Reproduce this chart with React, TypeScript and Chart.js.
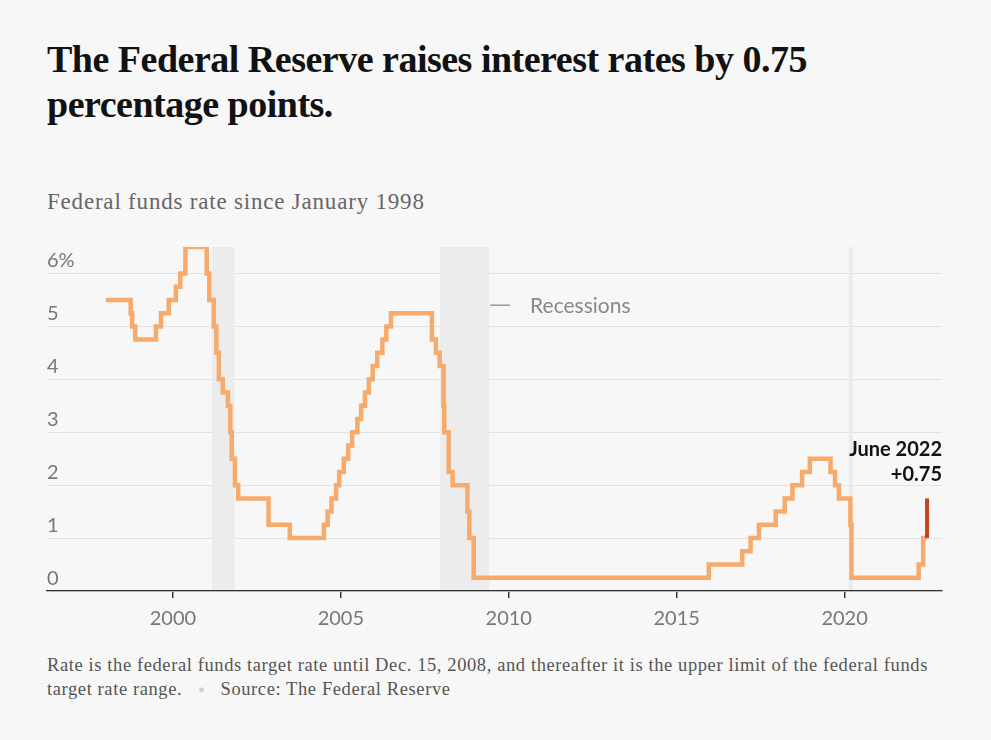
import React, { useEffect, useRef } from "react";
import { Chart, registerables } from "chart.js";

Chart.register(...registerables);

// Federal funds target rate (upper limit after Dec. 2008): date of change, new rate
const changeDates = [
  "1998-01-01", "1998-09-29", "1998-10-15", "1998-11-17", "1999-06-30", "1999-08-24",
  "1999-11-16", "2000-02-02", "2000-03-21", "2000-05-16", "2001-01-03", "2001-01-31",
  "2001-03-20", "2001-04-18", "2001-05-15", "2001-06-27", "2001-08-21", "2001-09-17",
  "2001-10-02", "2001-11-06", "2001-12-11", "2002-11-06", "2003-06-25", "2004-06-30",
  "2004-08-10", "2004-09-21", "2004-11-10", "2004-12-14", "2005-02-02", "2005-03-22",
  "2005-05-03", "2005-06-30", "2005-08-09", "2005-09-20", "2005-11-01", "2005-12-13",
  "2006-01-31", "2006-03-28", "2006-05-10", "2006-06-29", "2007-09-18", "2007-10-31",
  "2007-12-11", "2008-01-22", "2008-01-30", "2008-03-18", "2008-04-30", "2008-10-08",
  "2008-10-29", "2008-12-16", "2015-12-16", "2016-12-14", "2017-03-15", "2017-06-14",
  "2017-12-13", "2018-03-21", "2018-06-13", "2018-09-26", "2018-12-19", "2019-08-01",
  "2019-09-19", "2019-10-31", "2020-03-04", "2020-03-16", "2022-03-17", "2022-05-05",
  "2022-06-16",
];
const targetRates = [
  5.5, 5.25, 5.0, 4.75, 5.0, 5.25,
  5.5, 5.75, 6.0, 6.5, 6.0, 5.5,
  5.0, 4.5, 4.0, 3.75, 3.5, 3.0,
  2.5, 2.0, 1.75, 1.25, 1.0, 1.25,
  1.5, 1.75, 2.0, 2.25, 2.5, 2.75,
  3.0, 3.25, 3.5, 3.75, 4.0, 4.25,
  4.5, 4.75, 5.0, 5.25, 4.75, 4.5,
  4.25, 3.5, 3.0, 2.25, 2.0, 1.5,
  1.0, 0.25, 0.5, 0.75, 1.0, 1.25,
  1.5, 1.75, 2.0, 2.25, 2.5, 2.25,
  2.0, 1.75, 1.25, 0.25, 0.5, 1.0,
  1.0,
];

// June 2022 hike
const hikeDate = "2022-06-16";
const hikeFrom = 1.0;
const hikeTo = 1.75;
const hikeLabel = ["June 2022", "+0.75"];

const recessionStarts = ["2001-03-01", "2007-12-15", "2020-02-15"];
const recessionEnds = ["2001-11-01", "2009-06-01", "2020-04-01"];

const xTickYears = [2000, 2005, 2010, 2015, 2020];
const yTickValues = [0, 1, 2, 3, 4, 5, 6];
const xMin = 1996.25;
const xMax = 2022.9;
const yMax = 6.5;

function toYear(d: string): number {
  const [y, m, dd] = d.split("-").map(Number);
  const start = Date.UTC(y, 0, 1);
  const end = Date.UTC(y + 1, 0, 1);
  return y + (Date.UTC(y, m - 1, dd) - start) / (end - start);
}

const SANS = "Lato, 'Liberation Sans', sans-serif";
const SERIF = "'Liberation Serif', 'DejaVu Serif', serif";

const decorPlugin = {
  id: "decor",
  beforeDatasetsDraw(chart: any) {
    const { ctx, chartArea, scales } = chart;
    const x = scales.x;
    const y = scales.y;
    ctx.save();
    // recession bands
    ctx.fillStyle = "#ececec";
    for (let i = 0; i < recessionStarts.length; i++) {
      const x0 = x.getPixelForValue(toYear(recessionStarts[i]));
      const x1 = x.getPixelForValue(toYear(recessionEnds[i]));
      ctx.fillRect(x0, chartArea.top, x1 - x0, chartArea.bottom - chartArea.top - 1);
    }
    // y tick labels above gridlines
    ctx.fillStyle = "#777";
    ctx.font = `20px ${SANS}`;
    ctx.textAlign = "left";
    ctx.textBaseline = "alphabetic";
    for (const v of yTickValues) {
      const label = v === 6 ? "6%" : String(v);
      ctx.fillText(label, chartArea.left, y.getPixelForValue(v) - 6);
    }
    // legend for recessions
    const lx = x.getPixelForValue(toYear(recessionEnds[1])) + 1;
    const ly = y.getPixelForValue(5.4);
    ctx.strokeStyle = "#999";
    ctx.lineWidth = 1.5;
    ctx.beginPath();
    ctx.moveTo(lx, ly);
    ctx.lineTo(lx + 20, ly);
    ctx.stroke();
    ctx.fillStyle = "#888";
    ctx.font = `21px ${SANS}`;
    ctx.textBaseline = "middle";
    ctx.fillText("Recessions", lx + 40, ly + 1);
    ctx.restore();
  },
  afterDatasetsDraw(chart: any) {
    const { ctx, chartArea } = chart;
    const y = chart.scales.y;
    ctx.save();
    ctx.fillStyle = "#121212";
    ctx.font = `bold 20px ${SANS}`;
    ctx.textAlign = "right";
    ctx.textBaseline = "alphabetic";
    ctx.fillText(hikeLabel[0], chartArea.right, y.getPixelForValue(hikeTo) - 42);
    ctx.fillText(hikeLabel[1], chartArea.right, y.getPixelForValue(hikeTo) - 17);
    ctx.restore();
  },
};

export default function App() {
  const canvasRef = useRef<HTMLCanvasElement | null>(null);

  useEffect(() => {
    if (!canvasRef.current) return;
    const ratePoints = changeDates.map((d, i) => ({ x: toYear(d), y: targetRates[i] }));
    const hikePoints = [
      { x: toYear(hikeDate), y: hikeFrom },
      { x: toYear(hikeDate), y: hikeTo },
    ];
    const chart = new Chart(canvasRef.current, {
      type: "line",
      data: {
        datasets: [
          {
            data: hikePoints,
            borderColor: "#c4451c",
            borderWidth: 4,
            pointRadius: 0,
            borderCapStyle: "butt",
          },
          {
            data: ratePoints,
            borderColor: "#f6aa6c",
            borderWidth: 4.5,
            pointRadius: 0,
            stepped: "before",
            borderJoinStyle: "miter",
          },
        ],
      },
      options: {
        animation: false,
        responsive: false,
        devicePixelRatio: 1,
        layout: { padding: { left: 47, right: 49, top: 17, bottom: 10 } },
        plugins: { legend: { display: false }, tooltip: { enabled: false } },
        scales: {
          x: {
            type: "linear",
            min: xMin,
            max: xMax,
            afterBuildTicks: (s: any) => {
              s.ticks = xTickYears.map((v) => ({ value: v }));
            },
            ticks: {
              callback: (v: any) => String(v),
              color: "#777",
              font: { family: SANS, size: 20 },
              padding: 9,
              maxRotation: 0,
            },
            grid: {
              drawOnChartArea: false,
              drawTicks: true,
              tickLength: 7,
              color: "#333",
              lineWidth: 1.5,
            },
            border: { display: true, color: "#333", width: 1.2 },
          },
          y: {
            min: 0,
            max: yMax,
            afterBuildTicks: (s: any) => {
              s.ticks = yTickValues.map((v) => ({ value: v }));
            },
            afterFit: (s: any) => {
              s.width = 0;
            },
            ticks: { display: false },
            grid: { color: "#e2e2e2", lineWidth: 1, drawTicks: false },
            border: { display: false },
          },
        },
      },
      plugins: [decorPlugin],
    });
    return () => chart.destroy();
  }, []);

  return (
    <div
      style={{
        position: "absolute",
        left: 0,
        top: 0,
        width: 991,
        height: 740,
        background: "#f7f7f7",
        overflow: "hidden",
      }}
    >
      <div
        style={{
          position: "absolute",
          left: 47,
          top: 37,
          width: 900,
          fontFamily: SERIF,
          fontWeight: 700,
          fontSize: 38,
          lineHeight: "45px",
          color: "#121212",
          letterSpacing: -0.5,
        }}
      >
        The Federal Reserve raises interest rates by 0.75
        <br />
        percentage points.
      </div>
      <div
        style={{
          position: "absolute",
          left: 47,
          top: 188,
          fontFamily: SERIF,
          fontSize: 23,
          lineHeight: "28px",
          color: "#666",
          letterSpacing: 0.8,
        }}
      >
        Federal funds rate since January 1998
      </div>
      <canvas
        ref={canvasRef}
        width={991}
        height={420}
        style={{ position: "absolute", left: 0, top: 230, width: 991, height: 420 }}
      />
      <div
        style={{
          position: "absolute",
          left: 47,
          top: 653,
          width: 940,
          fontFamily: SERIF,
          fontSize: 18.5,
          lineHeight: "24px",
          color: "#555",
          whiteSpace: "nowrap",
          letterSpacing: 0.6,
        }}
      >
        Rate is the federal funds target rate until Dec. 15, 2008, and thereafter it is the upper limit of the federal funds
        <br />
        target rate range.
        <span style={{ color: "#d0d0d0", margin: "0 15px 0 16px", fontSize: 11, verticalAlign: "2px" }}>●</span>
        Source: The Federal Reserve
      </div>
    </div>
  );
}
